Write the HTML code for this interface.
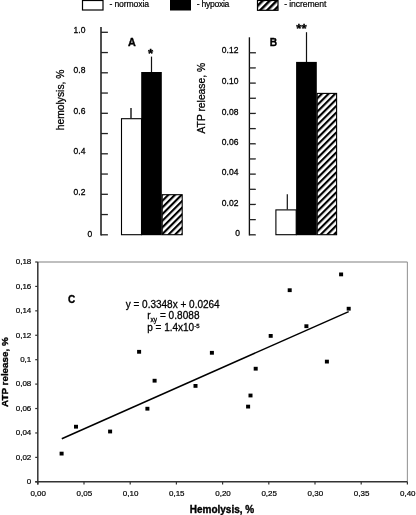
<!DOCTYPE html>
<html><head><meta charset="utf-8"><title>Figure</title>
<style>
html,body{margin:0;padding:0;background:#fff;}
body{width:416px;height:515px;overflow:hidden;}
svg{display:block;}
text{font-family:"Liberation Sans",Arial,sans-serif;fill:#000;stroke:#000;stroke-width:0.28px;}
text.b{stroke-width:0.35px;}
text.l{stroke-width:0.2px;}
</style></head><body>
<svg width="416" height="515" viewBox="0 0 416 515">
<defs>
<pattern id="hatch" patternUnits="userSpaceOnUse" width="4.7" height="4.7" patternTransform="translate(2.8,0) rotate(45)">
<rect x="0" y="0" width="2.15" height="4.7" fill="#000"/>
</pattern>
<pattern id="hatchB" patternUnits="userSpaceOnUse" width="4.7" height="4.7" patternTransform="translate(2.1,0) rotate(45)">
<rect x="0" y="0" width="2.15" height="4.7" fill="#000"/>
</pattern>
<pattern id="hatchL" patternUnits="userSpaceOnUse" width="5" height="5" patternTransform="rotate(45)">
<rect x="0" y="0" width="2.5" height="5" fill="#000"/>
</pattern>
</defs>
<rect width="416" height="515" fill="#fff"/>

<rect x="82.5" y="0.5" width="20.5" height="9.5" fill="#fff" stroke="#000" stroke-width="1.2"/>
<text x="109.4" y="7.4" font-size="8.6" class="l" letter-spacing="-0.1">- normoxia</text>
<rect x="170" y="0" width="21" height="10.5" fill="#000"/>
<text x="196.8" y="7.4" font-size="8.6" class="l" letter-spacing="-0.3">- hypoxia</text>
<rect x="257.5" y="0.5" width="20.5" height="9.8" fill="url(#hatchL)" stroke="#000" stroke-width="1.2"/>
<text x="284.2" y="7.4" font-size="8.6" class="l" letter-spacing="-0.08">- increment</text>
<line x1="101.0" y1="27.0" x2="101.0" y2="235.5" stroke="#222" stroke-width="1.6"/>
<line x1="101.0" y1="234.80" x2="107.9" y2="234.80" stroke="#222" stroke-width="1.3"/>
<line x1="101.0" y1="214.55" x2="107.9" y2="214.55" stroke="#222" stroke-width="1.3"/>
<line x1="101.0" y1="194.30" x2="107.9" y2="194.30" stroke="#222" stroke-width="1.3"/>
<line x1="101.0" y1="174.05" x2="107.9" y2="174.05" stroke="#222" stroke-width="1.3"/>
<line x1="101.0" y1="153.80" x2="107.9" y2="153.80" stroke="#222" stroke-width="1.3"/>
<line x1="101.0" y1="133.55" x2="107.9" y2="133.55" stroke="#222" stroke-width="1.3"/>
<line x1="101.0" y1="113.30" x2="107.9" y2="113.30" stroke="#222" stroke-width="1.3"/>
<line x1="101.0" y1="93.05" x2="107.9" y2="93.05" stroke="#222" stroke-width="1.3"/>
<line x1="101.0" y1="72.80" x2="107.9" y2="72.80" stroke="#222" stroke-width="1.3"/>
<line x1="101.0" y1="52.55" x2="107.9" y2="52.55" stroke="#222" stroke-width="1.3"/>
<line x1="101.0" y1="32.30" x2="107.9" y2="32.30" stroke="#222" stroke-width="1.3"/>
<text x="85.4" y="33.15" font-size="8.5" text-anchor="end">1.0</text>
<text x="85.4" y="73.30" font-size="8.5" text-anchor="end">0.8</text>
<text x="85.4" y="114.05" font-size="8.5" text-anchor="end">0.6</text>
<text x="85.4" y="154.45" font-size="8.5" text-anchor="end">0.4</text>
<text x="85.4" y="195.45" font-size="8.5" text-anchor="end">0.2</text>
<text x="92.2" y="236.65" font-size="8.5" text-anchor="end">0</text>
<text transform="translate(64,99.9) rotate(-90)" font-size="10.3" text-anchor="middle">hemolysis, %</text>
<text x="131.8" y="46.3" font-size="10.8" text-anchor="middle" font-weight="bold" class="b">A</text>
<line x1="131" y1="118.2" x2="131" y2="108" stroke="#000" stroke-width="1.3"/>
<line x1="151.5" y1="72" x2="151.5" y2="56.6" stroke="#111" stroke-width="1.2"/>
<rect x="121.5" y="118.7" width="20" height="116" fill="#fff" stroke="#000" stroke-width="1.1"/>
<rect x="141.2" y="72" width="20.6" height="163.2" fill="#000"/>
<rect x="162.2" y="194.7" width="20" height="40" fill="url(#hatch)" stroke="#000" stroke-width="1.1"/>
<text x="150.5" y="58.3" font-size="13.2" text-anchor="middle" font-weight="bold" class="b">*</text>
<line x1="249.4" y1="37.3" x2="249.4" y2="235.5" stroke="#111" stroke-width="1.35"/>
<line x1="249.4" y1="234.80" x2="255.8" y2="234.80" stroke="#222" stroke-width="1.3"/>
<line x1="249.4" y1="219.63" x2="255.8" y2="219.63" stroke="#222" stroke-width="1.3"/>
<line x1="249.4" y1="204.46" x2="255.8" y2="204.46" stroke="#222" stroke-width="1.3"/>
<line x1="249.4" y1="189.29" x2="255.8" y2="189.29" stroke="#222" stroke-width="1.3"/>
<line x1="249.4" y1="174.12" x2="255.8" y2="174.12" stroke="#222" stroke-width="1.3"/>
<line x1="249.4" y1="158.95" x2="255.8" y2="158.95" stroke="#222" stroke-width="1.3"/>
<line x1="249.4" y1="143.78" x2="255.8" y2="143.78" stroke="#222" stroke-width="1.3"/>
<line x1="249.4" y1="128.61" x2="255.8" y2="128.61" stroke="#222" stroke-width="1.3"/>
<line x1="249.4" y1="113.44" x2="255.8" y2="113.44" stroke="#222" stroke-width="1.3"/>
<line x1="249.4" y1="98.27" x2="255.8" y2="98.27" stroke="#222" stroke-width="1.3"/>
<line x1="249.4" y1="83.10" x2="255.8" y2="83.10" stroke="#222" stroke-width="1.3"/>
<line x1="249.4" y1="67.93" x2="255.8" y2="67.93" stroke="#222" stroke-width="1.3"/>
<line x1="249.4" y1="52.76" x2="255.8" y2="52.76" stroke="#222" stroke-width="1.3"/>
<text x="238.4" y="52.65" font-size="8.5" text-anchor="end">0.12</text>
<text x="238.4" y="84.45" font-size="8.5" text-anchor="end">0.10</text>
<text x="238.4" y="114.85" font-size="8.5" text-anchor="end">0.08</text>
<text x="238.4" y="145.15" font-size="8.5" text-anchor="end">0.06</text>
<text x="238.4" y="174.85" font-size="8.5" text-anchor="end">0.04</text>
<text x="238.4" y="206.05" font-size="8.5" text-anchor="end">0.02</text>
<text x="240" y="236.45" font-size="8.5" text-anchor="end">0</text>
<text transform="translate(204.8,98.2) rotate(-90)" font-size="10.3" text-anchor="middle">ATP release, %</text>
<text x="273.4" y="46.3" font-size="10.2" text-anchor="middle" font-weight="bold" class="b">B</text>
<line x1="287.3" y1="209.4" x2="287.3" y2="194.3" stroke="#111" stroke-width="1.2"/>
<line x1="306.5" y1="62" x2="306.5" y2="32.2" stroke="#111" stroke-width="1.2"/>
<rect x="275.9" y="209.9" width="20.3" height="24.8" fill="#fff" stroke="#000" stroke-width="1.1"/>
<rect x="296.1" y="61.9" width="20.7" height="173.3" fill="#000"/>
<rect x="317.2" y="93.4" width="19.4" height="141.3" fill="url(#hatchB)" stroke="#000" stroke-width="1.1"/>
<text x="301.5" y="32.6" font-size="13.2" text-anchor="middle" font-weight="bold" class="b">**</text>
<line x1="37.8" y1="262" x2="407.4" y2="262" stroke="#aaa" stroke-width="1.6"/>
<line x1="407.4" y1="262" x2="407.4" y2="481.8" stroke="#999" stroke-width="1.1"/>
<line x1="37.8" y1="262" x2="37.8" y2="484.40000000000003" stroke="#333" stroke-width="1.5"/>
<line x1="35.199999999999996" y1="481.8" x2="407.4" y2="481.8" stroke="#333" stroke-width="1.5"/>
<line x1="35.199999999999996" y1="481.80" x2="37.8" y2="481.80" stroke="#333" stroke-width="1.2"/>
<text x="31.3" y="484.15" font-size="8.0" text-anchor="end" class="l">0</text>
<line x1="35.199999999999996" y1="457.38" x2="37.8" y2="457.38" stroke="#333" stroke-width="1.2"/>
<text x="31.3" y="459.73" font-size="8.0" text-anchor="end" class="l">0,02</text>
<line x1="35.199999999999996" y1="432.96" x2="37.8" y2="432.96" stroke="#333" stroke-width="1.2"/>
<text x="31.3" y="435.31" font-size="8.0" text-anchor="end" class="l">0,04</text>
<line x1="35.199999999999996" y1="408.53" x2="37.8" y2="408.53" stroke="#333" stroke-width="1.2"/>
<text x="31.3" y="410.88" font-size="8.0" text-anchor="end" class="l">0,06</text>
<line x1="35.199999999999996" y1="384.11" x2="37.8" y2="384.11" stroke="#333" stroke-width="1.2"/>
<text x="31.3" y="386.46" font-size="8.0" text-anchor="end" class="l">0,08</text>
<line x1="35.199999999999996" y1="359.69" x2="37.8" y2="359.69" stroke="#333" stroke-width="1.2"/>
<text x="31.3" y="362.04" font-size="8.0" text-anchor="end" class="l">0,1</text>
<line x1="35.199999999999996" y1="335.27" x2="37.8" y2="335.27" stroke="#333" stroke-width="1.2"/>
<text x="31.3" y="337.62" font-size="8.0" text-anchor="end" class="l">0,12</text>
<line x1="35.199999999999996" y1="310.84" x2="37.8" y2="310.84" stroke="#333" stroke-width="1.2"/>
<text x="31.3" y="313.19" font-size="8.0" text-anchor="end" class="l">0,14</text>
<line x1="35.199999999999996" y1="286.42" x2="37.8" y2="286.42" stroke="#333" stroke-width="1.2"/>
<text x="31.3" y="288.77" font-size="8.0" text-anchor="end" class="l">0,16</text>
<line x1="35.199999999999996" y1="262.00" x2="37.8" y2="262.00" stroke="#333" stroke-width="1.2"/>
<text x="31.3" y="264.35" font-size="8.0" text-anchor="end" class="l">0,18</text>
<line x1="37.80" y1="481.8" x2="37.80" y2="484.40000000000003" stroke="#333" stroke-width="1.2"/>
<text x="38.20" y="495.6" font-size="8.0" text-anchor="middle" class="l">0,00</text>
<line x1="84.00" y1="481.8" x2="84.00" y2="484.40000000000003" stroke="#333" stroke-width="1.2"/>
<text x="84.40" y="495.6" font-size="8.0" text-anchor="middle" class="l">0,05</text>
<line x1="130.20" y1="481.8" x2="130.20" y2="484.40000000000003" stroke="#333" stroke-width="1.2"/>
<text x="130.60" y="495.6" font-size="8.0" text-anchor="middle" class="l">0,10</text>
<line x1="176.40" y1="481.8" x2="176.40" y2="484.40000000000003" stroke="#333" stroke-width="1.2"/>
<text x="176.80" y="495.6" font-size="8.0" text-anchor="middle" class="l">0,15</text>
<line x1="222.60" y1="481.8" x2="222.60" y2="484.40000000000003" stroke="#333" stroke-width="1.2"/>
<text x="223.00" y="495.6" font-size="8.0" text-anchor="middle" class="l">0,20</text>
<line x1="268.80" y1="481.8" x2="268.80" y2="484.40000000000003" stroke="#333" stroke-width="1.2"/>
<text x="269.20" y="495.6" font-size="8.0" text-anchor="middle" class="l">0,25</text>
<line x1="315.00" y1="481.8" x2="315.00" y2="484.40000000000003" stroke="#333" stroke-width="1.2"/>
<text x="315.40" y="495.6" font-size="8.0" text-anchor="middle" class="l">0,30</text>
<line x1="361.20" y1="481.8" x2="361.20" y2="484.40000000000003" stroke="#333" stroke-width="1.2"/>
<text x="361.60" y="495.6" font-size="8.0" text-anchor="middle" class="l">0,35</text>
<line x1="407.40" y1="481.8" x2="407.40" y2="484.40000000000003" stroke="#333" stroke-width="1.2"/>
<text x="407.80" y="495.6" font-size="8.0" text-anchor="middle" class="l">0,40</text>
<text x="222" y="512.6" font-size="10" text-anchor="middle" font-weight="bold" class="b">Hemolysis, %</text>
<text class="b" transform="translate(8.3,372.1) rotate(-90)" font-size="9.85" font-weight="bold" text-anchor="middle">ATP release, %</text>
<text x="71.6" y="302.7" font-size="10" text-anchor="middle" font-weight="bold" class="b">C</text>
<text x="172.7" y="308.1" font-size="10" text-anchor="middle">y = 0.3348x + 0.0264</text>
<text x="147.2" y="319.4" font-size="10" letter-spacing="0.05">r<tspan font-size="6.5" dy="2.2" letter-spacing="0">xy</tspan><tspan dy="-2.2"> = 0.8088</tspan></text>
<text x="147.2" y="330.9" font-size="10">p = 1.4x10<tspan font-size="6" dy="-3.4" letter-spacing="0">-5</tspan></text>
<line x1="61.8" y1="438.7" x2="348.7" y2="311.6" stroke="#000" stroke-width="1.5"/>
<rect x="59.60" y="451.70" width="4.0" height="3.8" fill="#000"/>
<rect x="74.00" y="424.80" width="4.0" height="3.8" fill="#000"/>
<rect x="108.10" y="429.60" width="4.0" height="3.8" fill="#000"/>
<rect x="137.10" y="349.90" width="4.0" height="3.8" fill="#000"/>
<rect x="152.60" y="378.80" width="4.0" height="3.8" fill="#000"/>
<rect x="145.40" y="406.80" width="4.0" height="3.8" fill="#000"/>
<rect x="193.50" y="384.00" width="4.0" height="3.8" fill="#000"/>
<rect x="209.90" y="350.90" width="4.0" height="3.8" fill="#000"/>
<rect x="246.10" y="404.70" width="4.0" height="3.8" fill="#000"/>
<rect x="248.50" y="393.60" width="4.0" height="3.8" fill="#000"/>
<rect x="253.70" y="366.80" width="4.0" height="3.8" fill="#000"/>
<rect x="268.70" y="334.00" width="4.0" height="3.8" fill="#000"/>
<rect x="287.70" y="288.30" width="4.0" height="3.8" fill="#000"/>
<rect x="304.40" y="324.30" width="4.0" height="3.8" fill="#000"/>
<rect x="324.90" y="359.70" width="4.0" height="3.8" fill="#000"/>
<rect x="339.10" y="272.50" width="4.0" height="3.8" fill="#000"/>
<rect x="346.70" y="306.80" width="4.0" height="3.8" fill="#000"/>
</svg>
</body></html>
